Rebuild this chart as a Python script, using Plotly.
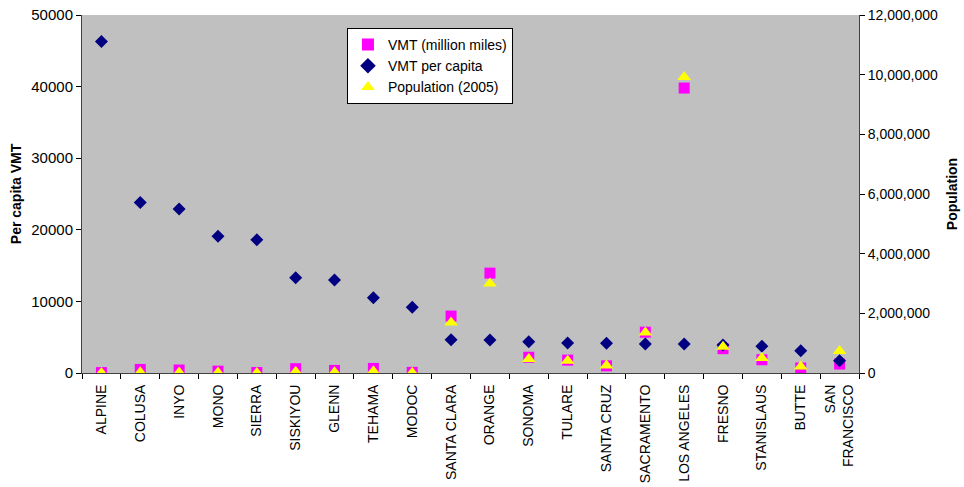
import plotly.graph_objects as go

counties = ["ALPINE", "COLUSA", "INYO", "MONO", "SIERRA", "SISKIYOU", "GLENN", "TEHAMA",
            "MODOC", "SANTA CLARA", "ORANGE", "SONOMA", "TULARE", "SANTA CRUZ",
            "SACRAMENTO", "LOS ANGELES", "FRESNO", "STANISLAUS", "BUTTE", "SAN<br>FRANCISCO"]

vmt_million = [60, 500, 420, 260, 70, 600, 360, 640, 90, 7950, 13950, 2200, 1800, 1000,
               5700, 39800, 3400, 1850, 700, 1250]
vmt_per_capita = [46300, 23800, 22900, 19100, 18600, 13300, 13000, 10500, 9200, 4650,
                  4600, 4350, 4200, 4150, 4050, 4050, 3900, 3750, 3100, 1700]
population = [1200, 21000, 18500, 13500, 3500, 45000, 28000, 61000, 9600, 1690000,
              3000000, 470000, 410000, 250000, 1360000, 9920000, 880000, 500000, 215000, 740000]

FONT = "Liberation Sans, Arial, sans-serif"

fig = go.Figure()
fig.add_trace(go.Scatter(x=counties, y=vmt_million, mode="markers", name="VMT (million miles)",
                         marker=dict(symbol="square", size=11, color="#FF00FF", line=dict(width=0)),
                         yaxis="y"))
fig.add_trace(go.Scatter(x=counties, y=vmt_per_capita, mode="markers", name="VMT per capita",
                         marker=dict(symbol="diamond", size=10, color="#000080", line=dict(width=0)),
                         yaxis="y"))
fig.add_trace(go.Scatter(x=counties, y=population, mode="markers", name="Population (2005)",
                         marker=dict(symbol="triangle-up", size=12, color="#FFFF00", line=dict(width=0)),
                         yaxis="y2"))

fig.update_layout(
    width=964, height=487,
    margin=dict(l=82, r=105, t=15, b=114, autoexpand=False),
    paper_bgcolor="white",
    plot_bgcolor="#C0C0C0",
    font=dict(family=FONT, size=14, color="black"),
    showlegend=True,
    legend=dict(x=0.341, y=0.964, xanchor="left", yanchor="top",
                bgcolor="white", bordercolor="black", borderwidth=1,
                font=dict(family=FONT, size=14), itemsizing="constant",
                itemwidth=30, tracegroupgap=0),
    xaxis=dict(type="category", tickangle=-90, tickson="boundaries", ticks="outside",
               ticklen=5, tickcolor="black", showline=True, linecolor="#404040", linewidth=1,
               showgrid=False, zeroline=False, tickfont=dict(family=FONT, size=14),
               range=[-0.5, 19.5], automargin=False, ticklabelstandoff=5),
    yaxis=dict(range=[0, 50000], dtick=10000, tickformat="d", ticks="outside", ticklen=5,
               tickcolor="black", showline=True, linecolor="#404040", linewidth=1,
               showgrid=False, zeroline=False, tickfont=dict(family=FONT, size=15),
               automargin=False,
               title=dict(text="<b>Per capita VMT</b>", font=dict(family=FONT, size=14), standoff=6)),
    yaxis2=dict(range=[0, 12000000], dtick=2000000, tickformat=",d", overlaying="y", side="right",
                ticks="outside", ticklen=5, tickcolor="black", showline=True, linecolor="#404040",
                linewidth=1, showgrid=False, zeroline=False, tickfont=dict(family=FONT, size=14),
                automargin=False,
                title=dict(text="<b>Population</b>", font=dict(family=FONT, size=14), standoff=10)),
)

fig.write_html("out.html", config={"displayModeBar": False},
               post_script="document.body.style.margin='0';document.body.style.padding='0';")
